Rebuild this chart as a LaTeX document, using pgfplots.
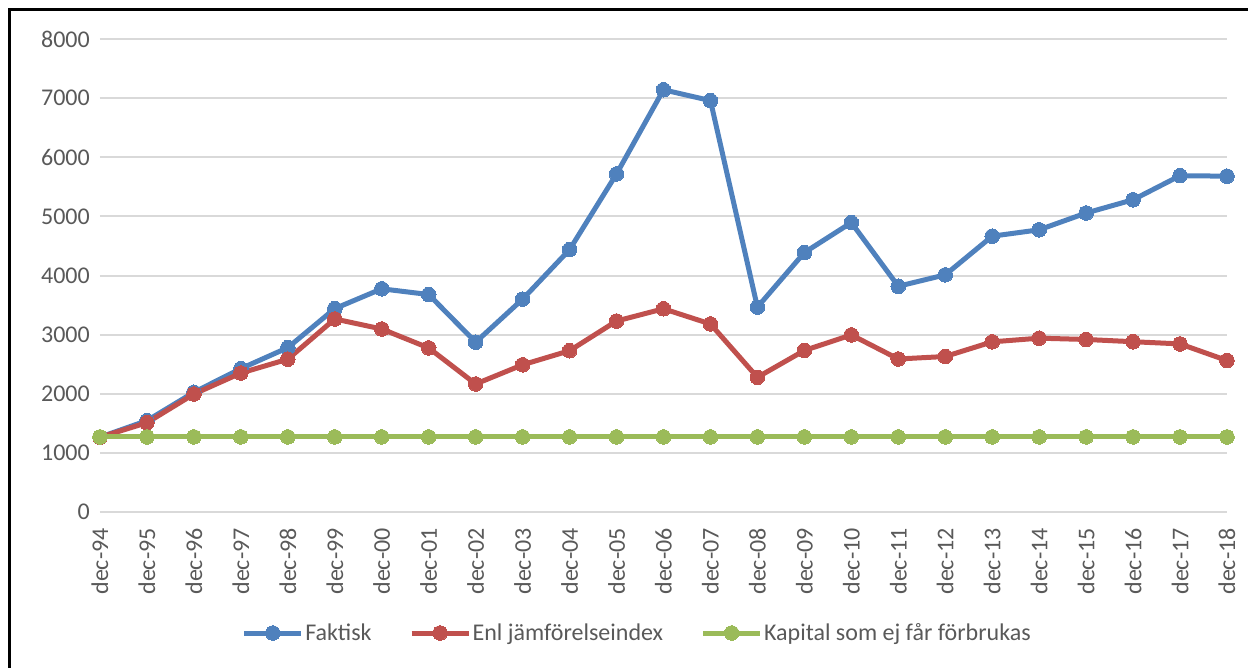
\documentclass[border=0pt]{standalone}
\usepackage{pgfplots}
\pgfplotsset{compat=1.18}
\usepackage{fontspec}
\setmainfont{Carlito}
\definecolor{cblue}{HTML}{4F81BD}
\definecolor{cred}{HTML}{C0504D}
\definecolor{cgreen}{HTML}{9BBB59}
\definecolor{cgrid}{HTML}{D9D9D9}
\definecolor{ctext}{HTML}{595959}
\pgfplotstableread{
x faktisk enl kapital
0 1265 1265 1270
1 1545 1510 1270
2 2025 1995 1270
3 2425 2350 1270
4 2780 2585 1270
5 3440 3265 1270
6 3775 3095 1270
7 3678 2775 1270
8 2872 2165 1270
9 3600 2490 1270
10 4438 2728 1270
11 5718 3230 1270
12 7141 3437 1270
13 6958 3180 1270
14 3465 2278 1270
15 4388 2732 1270
16 4895 2995 1270
17 3818 2588 1270
18 4011 2630 1270
19 4665 2878 1270
20 4773 2940 1270
21 5057 2918 1270
22 5281 2880 1270
23 5688 2843 1270
24 5680 2562 1270
}\datatable
\begin{document}
\begin{tikzpicture}
\useasboundingbox (-100pt,-155pt) rectangle (1148pt,512pt);
\begin{axis}[
  at={(0pt,0pt)}, anchor=south west,
  scale only axis, width=1127pt, height=473pt,
  xmin=0, xmax=24, ymin=0, ymax=8000,
  xtick={0,...,24},
  xticklabels={dec-94,dec-95,dec-96,dec-97,dec-98,dec-99,dec-00,dec-01,dec-02,dec-03,dec-04,dec-05,dec-06,dec-07,dec-08,dec-09,dec-10,dec-11,dec-12,dec-13,dec-14,dec-15,dec-16,dec-17,dec-18},
  ytick={0,1000,...,8000},
  major tick length=0pt,
  axis line style={draw=none},
  ymajorgrids, grid style={cgrid, line width=2pt},
  /pgf/number format/assume math mode=true,
  /pgf/number format/1000 sep={},
  tick label style={font=\fontsize{24}{28}\selectfont, text=ctext},
  x tick label style={rotate=90, anchor=east, inner sep=0pt, xshift=-16pt},
  y tick label style={anchor=east, inner sep=0pt, xshift=-10pt},
  clip=false,
  legend style={at={(537pt,-121pt)}, anchor=center, draw=none, fill=none,
    font=\fontsize{24}{28}\selectfont, text=ctext, legend columns=-1,
    /tikz/every even column/.append style={column sep=36pt},
    /tikz/every odd column/.append style={column sep=0pt},
    nodes={inner sep=1.5pt}, inner sep=0pt},
  legend image code/.code={
    \draw[#1, mark=none] (0pt,0pt) -- (57pt,0pt);
    \draw[#1, only marks] plot coordinates {(28.5pt,0pt)};
  },
]
\addplot[cblue, line width=5pt, mark=*, mark size=7.3pt, mark options={fill=cblue, draw=cblue, line width=0pt}] table[x=x, y=faktisk] {\datatable};
\addlegendentry{Faktisk}
\addplot[cred, line width=5pt, mark=*, mark size=7.3pt, mark options={fill=cred, draw=cred, line width=0pt}] table[x=x, y=enl] {\datatable};
\addlegendentry{Enl jämförelseindex}
\addplot[cgreen, line width=5pt, mark=*, mark size=7.3pt, mark options={fill=cgreen, draw=cgreen, line width=0pt}] table[x=x, y=kapital] {\datatable};
\addlegendentry{Kapital som ej får förbrukas}
\end{axis}
\draw[black, line width=3pt] (-90pt,-200pt) -- (-90pt,502pt) -- (1200pt,502pt);
\end{tikzpicture}
\end{document}
